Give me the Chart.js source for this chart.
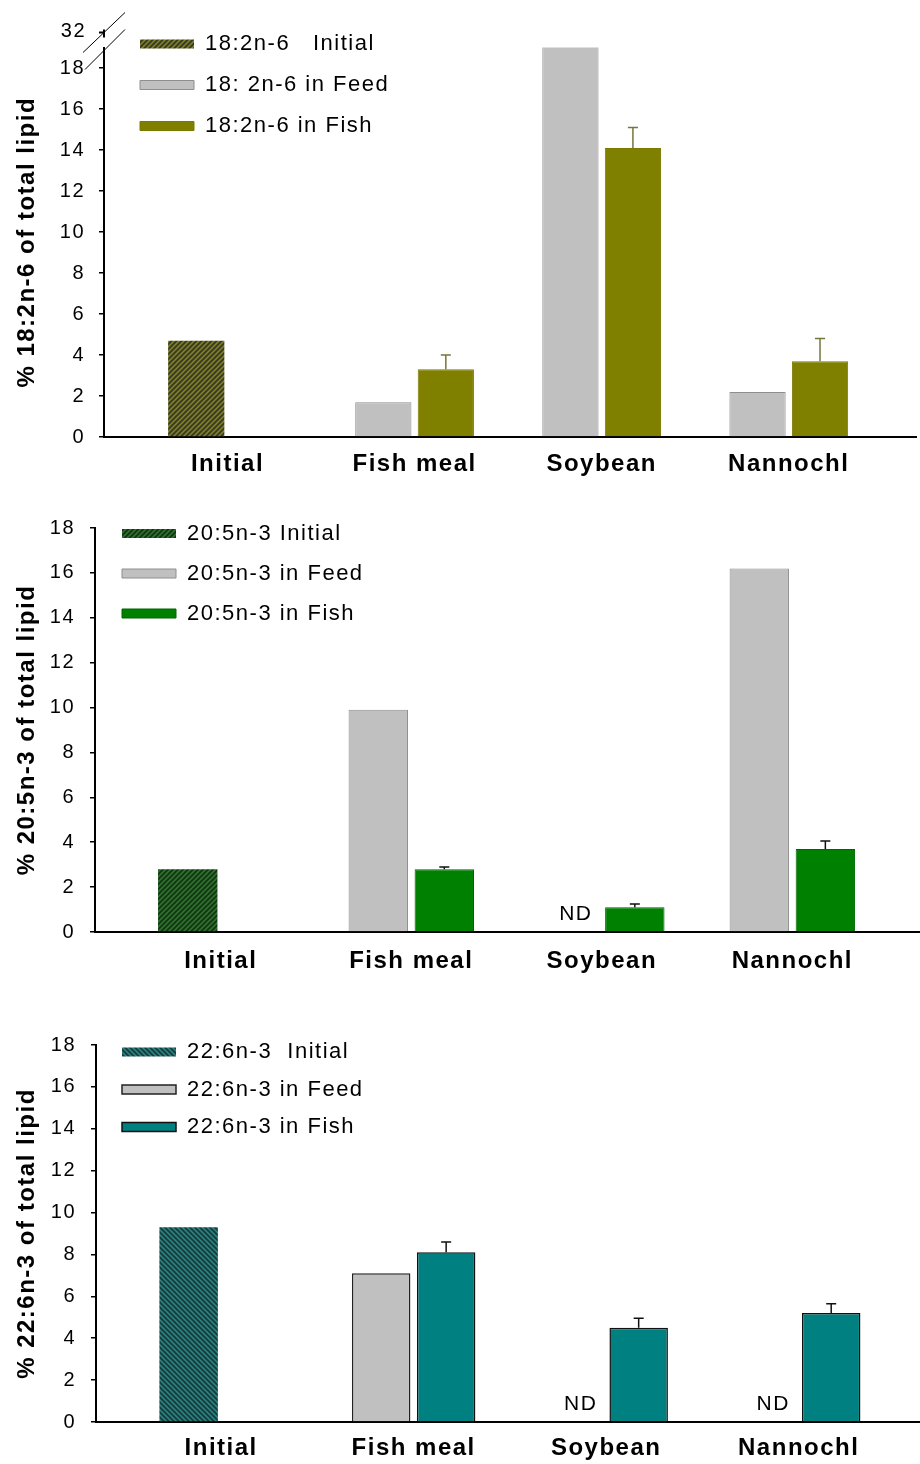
<!DOCTYPE html>
<html lang="en">
<head>
<meta charset="utf-8">
<title>18:2n-6, 20:5n-3 and 22:6n-3 in feed and fish</title>
<script src="https://cdn.jsdelivr.net/npm/chart.js@4.4.1/dist/chart.umd.min.js"></script>
<style>
    body { margin: 0; background: #fff; }
    canvas { display: block; }
</style>
</head>
<body>
<canvas id="chartLin" width="920" height="495"></canvas>
<canvas id="chartEpa" width="920" height="490"></canvas>
<canvas id="chartDha" width="920" height="479"></canvas>
<script>
// Shared categories and axis ticks
const categories = ['Initial', 'Fish meal', 'Soybean', 'Nannochl'];
const yTicks = [0, 2, 4, 6, 8, 10, 12, 14, 16, 18];
const brokenTopTick = '32';

// 18:2n-6
const linLabels = ['18:2n-6   Initial', '18: 2n-6 in Feed', '18:2n-6 in Fish'];
const linInitial = [4.7, null, null, null];
const linFeed = [null, 1.7, 30, 2.2];
const linFish = [null, 3.3, 14.1, 3.7];
const linFishSE = [null, 0.7, 1.0, 1.1];

// 20:5n-3
const epaLabels = ['20:5n-3 Initial', '20:5n-3 in Feed', '20:5n-3 in Fish'];
const epaInitial = [2.8, null, null, null];
const epaFeed = [null, 9.9, 'ND', 16.2];
const epaFish = [null, 2.8, 1.1, 3.7];
const epaFishSE = [null, 0.1, 0.15, 0.35];

// 22:6n-3
const dhaLabels = ['22:6n-3  Initial', '22:6n-3 in Feed', '22:6n-3 in Fish'];
const dhaInitial = [9.3, null, null, null];
const dhaFeed = [null, 7.1, 'ND', 'ND'];
const dhaFish = [null, 8.1, 4.5, 5.2];
const dhaFishSE = [null, 0.5, 0.45, 0.45];

const FONT = 'Arial, "Liberation Sans", sans-serif';
Chart.defaults.font.family = FONT;
Chart.defaults.color = '#000';

const toPoints = vals => vals.map((v, i) => ({ x: i, y: typeof v === 'number' ? v : null }));

// diagonal hatch used for the "Initial" bars
function hatch(base, stripe, flip) {
    const n = 5;
    const c = document.createElement('canvas');
    c.width = c.height = n;
    const g = c.getContext('2d');
    g.fillStyle = base;
    g.fillRect(0, 0, n, n);
    g.strokeStyle = stripe;
    g.lineWidth = 1.5;
    g.beginPath();
    if (!flip) {
        g.moveTo(0, n); g.lineTo(n, 0);
        g.moveTo(-1, 1); g.lineTo(1, -1);
        g.moveTo(n - 1, n + 1); g.lineTo(n + 1, n - 1);
    } else {
        g.moveTo(0, 0); g.lineTo(n, n);
        g.moveTo(-1, n - 1); g.lineTo(1, n + 1);
        g.moveTo(n - 1, -1); g.lineTo(n + 1, 1);
    }
    g.stroke();
    return g.createPattern(c, 'repeat');
}

// legend placement, error bars, ND marks and the broken axis top
const figurePlugin = {
    id: 'figure',
    beforeUpdate(chart) { chart.ctx.letterSpacing = '1.5px'; },
    beforeDraw(chart) { chart.ctx.letterSpacing = '1.5px'; },
    afterLayout(chart, args, opts) {
        const lg = chart.legend;
        const at = opts.legendAt;
        if (!lg || !at) return;
        lg.left = at.x - at.pad;
        lg.top = at.y - at.pad - at.size / 2;
        lg.bottom = lg.top + 400;
    },
    afterDatasetsDraw(chart, args, opts) {
        const { ctx, scales: { x, y } } = chart;
        const feed = chart.data.datasets[1];
        const fish = chart.data.datasets[2];
        const fishMeta = chart.getDatasetMeta(2);
        ctx.save();
        ctx.strokeStyle = opts.errorColor;
        ctx.lineWidth = 1.5;
        fishMeta.data.forEach((bar, i) => {
            const v = fish.data[i].y;
            const se = fish.errors[i];
            if (v == null || !se) return;
            const top = y.getPixelForValue(v + se);
            ctx.beginPath();
            ctx.moveTo(bar.x, bar.y);
            ctx.lineTo(bar.x, top);
            ctx.moveTo(bar.x - 5, top);
            ctx.lineTo(bar.x + 5, top);
            ctx.stroke();
        });
        ctx.fillStyle = '#000';
        ctx.font = '21px ' + FONT;
        ctx.textAlign = 'center';
        ctx.textBaseline = 'middle';
        feed.ndSource.forEach((v, i) => {
            if (v !== 'ND') return;
            const c = x.getPixelForValue(i);
            ctx.fillText('ND', 2 * c - fishMeta.data[i].x + 7, y.getPixelForValue(0) - 18);
        });
        ctx.restore();
    },
    afterDraw(chart, args, opts) {
        if (!opts.brokenTop) return;
        const { ctx, chartArea: { left, top } } = chart;
        ctx.save();
        ctx.strokeStyle = '#000';
        ctx.lineWidth = 2;
        ctx.beginPath();
        ctx.moveTo(left, top - 18); ctx.lineTo(left, top - 10);
        ctx.moveTo(left - 5, top - 15); ctx.lineTo(left, top - 15);
        ctx.stroke();
        ctx.lineWidth = 1;
        ctx.beginPath();
        ctx.moveTo(left - 21, top + 5); ctx.lineTo(left + 21, top - 35);
        ctx.moveTo(left - 19, top + 22); ctx.lineTo(left + 21, top - 18);
        ctx.stroke();
        ctx.fillStyle = '#000';
        ctx.font = '20px ' + FONT;
        ctx.textAlign = 'right';
        ctx.textBaseline = 'middle';
        ctx.fillText(opts.brokenTop, left - 18, top - 16);
        ctx.restore();
    }
};

function drawPanel(id, o) {
    return new Chart(document.getElementById(id), {
        type: 'bar',
        data: {
            datasets: [
                { label: o.labels[0], data: toPoints(o.initial), backgroundColor: o.hatch, borderWidth: 0, stack: 'left' },
                { label: o.labels[1], data: toPoints(o.feed), ndSource: o.feed, backgroundColor: '#c0c0c0', borderColor: o.feedEdge, borderWidth: o.edge, stack: 'left' },
                { label: o.labels[2], data: toPoints(o.fish), errors: o.se, backgroundColor: o.fishColor, borderColor: o.fishEdge, borderWidth: o.edge, stack: 'right' }
            ]
        },
        options: {
            responsive: false,
            animation: false,
            clip: 0,
            categoryPercentage: o.catPct,
            barPercentage: 0.9,
            layout: { padding: { top: o.top, right: o.right, left: 0, bottom: 0 } },
            plugins: {
                legend: {
                    position: 'chartArea',
                    align: 'start',
                    labels: { boxWidth: 54, boxHeight: 9, padding: o.legendAt.pad, font: { size: o.legendAt.size } }
                },
                tooltip: { enabled: false },
                figure: { legendAt: o.legendAt, errorColor: o.errColor, brokenTop: o.brokenTop }
            },
            scales: {
                x: {
                    type: 'linear',
                    min: o.xMin,
                    max: o.xMax,
                    offset: false,
                    grid: { drawOnChartArea: false, drawTicks: false, offset: false },
                    border: { color: '#000', width: 2 },
                    afterBuildTicks: s => { s.ticks = categories.map((c, i) => ({ value: i })); },
                    afterFit: s => { s.height = o.xHeight; },
                    ticks: { callback: v => categories[v], padding: o.xPad, autoSkip: false, maxRotation: 0, font: { size: 24, weight: 'bold' } }
                },
                y: {
                    stacked: true,
                    min: 0,
                    max: o.yMax,
                    grid: { drawOnChartArea: false, tickLength: 5, color: '#000', lineWidth: 1.5 },
                    border: { color: '#000', width: 2 },
                    afterBuildTicks: s => { s.ticks = yTicks.map(v => ({ value: v })); },
                    afterFit: s => { s.width = o.axisX; },
                    ticks: { padding: o.yPad, font: { size: 20 } },
                    title: { display: true, text: o.title, font: { size: 24, weight: 'bold' }, padding: { top: 13, bottom: 0 } }
                }
            }
        },
        plugins: [figurePlugin]
    });
}

drawPanel('chartLin', {
    labels: linLabels, initial: linInitial, feed: linFeed, fish: linFish, se: linFishSE,
    title: '% 18:2n-6 of total lipid',
    hatch: hatch('#3c3c22', '#85852a'),
    fishColor: '#808000', fishEdge: '#7a7a00', feedEdge: '#8e8e8e', edge: 1, errColor: '#76763a',
    yMax: 19, brokenTop: brokenTopTick,
    top: 47.5, right: 4, axisX: 104, xHeight: 58, xPad: 13, yPad: 14,
    xMin: -0.66, xMax: 3.68, catPct: 0.668,
    legendAt: { x: 140, y: 44, pad: 19, size: 22 }
});

drawPanel('chartEpa', {
    labels: epaLabels, initial: epaInitial, feed: epaFeed, fish: epaFish, se: epaFishSE,
    title: '% 20:5n-3 of total lipid',
    hatch: hatch('#123a12', '#357535'),
    fishColor: '#008000', fishEdge: '#006600', feedEdge: '#8e8e8e', edge: 1, errColor: '#111',
    yMax: 18,
    top: 33, right: 0, axisX: 95, xHeight: 53, xPad: 15, yPad: 15,
    xMin: -0.66, xMax: 3.67, catPct: 0.693,
    legendAt: { x: 122, y: 38.5, pad: 18, size: 22 }
});

drawPanel('chartDha', {
    labels: dhaLabels, initial: dhaInitial, feed: dhaFeed, fish: dhaFish, se: dhaFishSE,
    title: '% 22:6n-3 of total lipid',
    hatch: hatch('#173f3f', '#2e8888', true),
    fishColor: '#008080', fishEdge: '#111', feedEdge: '#222', edge: 1.5, errColor: '#111',
    yMax: 18,
    top: 60, right: 0, axisX: 96, xHeight: 42, xPad: 12, yPad: 15,
    xMin: -0.65, xMax: 3.63, catPct: 0.675,
    legendAt: { x: 122, y: 67, pad: 15.5, size: 22 }
});
</script>
</body>
</html>
